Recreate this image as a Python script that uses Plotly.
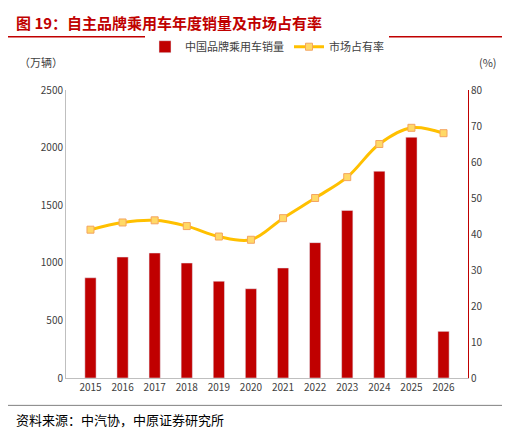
import plotly.graph_objects as go

years = ["2015", "2016", "2017", "2018", "2019", "2020", "2021", "2022", "2023", "2024", "2025", "2026"]
sales = [870, 1050, 1085, 998, 840, 775, 955, 1175, 1455, 1795, 2090, 405]
share = [41.2, 43.2, 43.8, 42.2, 39.3, 38.4, 44.4, 50.0, 55.8, 65.0, 69.5, 68.0]

font = "Noto Sans CJK SC"
fig = go.Figure()
fig.add_trace(go.Bar(x=years, y=sales, name="中国品牌乘用车销量",
                     marker_color="#c00000", width=0.35))
fig.add_trace(go.Scatter(x=years, y=share, name="市场占有率", yaxis="y2",
                         mode="lines+markers", line=dict(color="#ffc000", width=3, shape="spline"),
                         marker=dict(symbol="square", size=7, color="#ffd966",
                                     line=dict(color="#f4a460", width=1))))

fig.update_layout(
    width=510, height=440,
    margin=dict(l=58, r=50, t=82, b=70),
    paper_bgcolor="white", plot_bgcolor="white",
    font=dict(family=font, size=11, color="#404040"),
    bargap=0.5,
    legend=dict(orientation="h", x=0.5, xanchor="center", y=1.1, yanchor="bottom",
                font=dict(size=11), itemwidth=30),
    xaxis=dict(showline=True, linecolor="#bfbfbf", ticks="", tickfont=dict(size=10)),
    yaxis=dict(range=[0, 2500], dtick=500, showgrid=False, showline=True,
               linecolor="#bfbfbf", tickfont=dict(size=10)),
    yaxis2=dict(range=[0, 80], dtick=10, overlaying="y", side="right", showgrid=False,
                showline=True, linecolor="#c00000", tickfont=dict(size=10)),
    annotations=[
        dict(text="<b>图 19：自主品牌乘用车年度销量及市场占有率</b>", x=0.0, y=1.0,
             xref="paper", yref="paper", xanchor="left", yanchor="top",
             showarrow=False, font=dict(size=15, color="#c00000"), xshift=-52, yshift=80),
        dict(text="（万辆）", x=0, y=1, xref="paper", yref="paper", xanchor="center",
             yanchor="bottom", showarrow=False, yshift=18, xshift=-25, font=dict(size=11)),
        dict(text="(%)", x=1, y=1, xref="paper", yref="paper", xanchor="center",
             yanchor="bottom", showarrow=False, yshift=18, xshift=20, font=dict(size=11)),
        dict(text="资料来源：中汽协，中原证券研究所", x=0, y=0, xref="paper", yref="paper",
             xanchor="left", yanchor="top", showarrow=False, xshift=-52, yshift=-30,
             font=dict(size=13, color="#000000")),
    ],
    shapes=[
        dict(type="line", xref="paper", yref="paper", x0=-0.15, x1=1.1, y0=1.185, y1=1.185,
             line=dict(color="#c00000", width=1.5)),
        dict(type="line", xref="paper", yref="paper", x0=-0.15, x1=1.1, y0=-0.095, y1=-0.095,
             line=dict(color="#808080", width=1)),
    ],
)
fig.write_html("out.html")
